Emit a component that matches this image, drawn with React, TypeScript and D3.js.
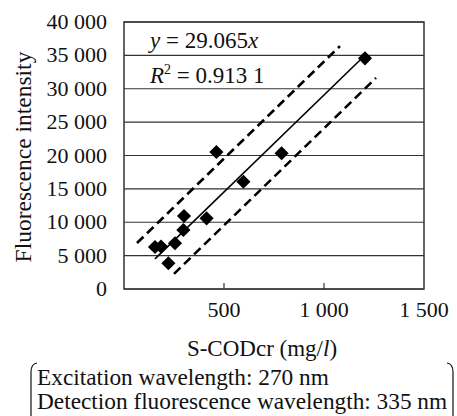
import React from "react";
import * as d3 from "d3";

const xTicks = [500, 1000, 1500];
const yTicks = [0, 5000, 10000, 15000, 20000, 25000, 30000, 35000, 40000];
const pointsX = [155, 185, 255, 297, 300, 222, 413, 597, 462, 788, 1205];
const pointsY = [6300, 6350, 6850, 8840, 10930, 3850, 10590, 16070, 20520, 20330, 34560];
const slope = 29.065;
const fitRange = [155, 1205];
const upperBand = { offset: 5000, range: [65, 1080] };
const lowerBand = { offset: -5000, range: [250, 1260] };
const equationText = "29.065";
const r2Text = "0.913 1";
const xLabel = "S-CODcr (mg/";
const yLabel = "Fluorescence intensity";
const noteLines = ["Excitation wavelength: 270 nm", "Detection fluorescence wavelength: 335 nm"];

const W = 457;
const H = 416;
const m = { left: 124, right: 424, top: 22, bottom: 289 };
const FONT = "'Liberation Serif', 'Times New Roman', serif";

export default function App() {
  const x = d3.scaleLinear().domain([0, 1500]).range([m.left, m.right]);
  const y = d3.scaleLinear().domain([0, 40000]).range([m.bottom, m.top]);
  const fmt = d3.formatLocale({ decimal: ".", thousands: " ", grouping: [3], currency: ["", ""] }).format(",d");
  const line = d3
    .line<[number, number]>()
    .x((d) => x(d[0]))
    .y((d) => y(d[1]));
  const mk = (r: number[], off: number): [number, number][] => r.map((v) => [v, slope * v + off] as [number, number]);
  const diamond = d3.symbol().type(d3.symbolSquare).size(100)();
  const ts = { fontFamily: FONT };

  return (
    <svg width={W} height={H} style={{ position: "absolute", left: 0, top: 0, background: "#fff", fontFamily: FONT }}>
      {yTicks.map((t) => (
        <line key={t} x1={m.left} x2={m.right} y1={y(t)} y2={y(t)} stroke="#333" strokeWidth={1.2} />
      ))}
      <rect x={m.left} y={m.top} width={m.right - m.left} height={m.bottom - m.top} fill="none" stroke="#333" strokeWidth={1.5} />
      {xTicks.slice(0, 2).map((t) => (
        <line key={t} x1={x(t)} x2={x(t)} y1={m.bottom} y2={m.bottom - 6} stroke="#333" strokeWidth={1.2} />
      ))}
      {yTicks.map((t) => (
        <text key={t} x={107} y={y(t) + 7} textAnchor="end" fontSize={22} fill="#111" style={ts}>
          {fmt(t)}
        </text>
      ))}
      {xTicks.map((t) => (
        <text key={t} x={x(t)} y={317} textAnchor="middle" fontSize={22} fill="#111" style={ts}>
          {fmt(t)}
        </text>
      ))}
      <path d={line(mk(upperBand.range, upperBand.offset)) || ""} fill="none" stroke="#000" strokeWidth={2.6} strokeDasharray="9,5" />
      <path d={line(mk(lowerBand.range, lowerBand.offset)) || ""} fill="none" stroke="#000" strokeWidth={2.6} strokeDasharray="9,5" />
      <path d={line(mk(fitRange, 0)) || ""} fill="none" stroke="#000" strokeWidth={1.6} />
      {pointsX.map((px, i) => (
        <path key={i} d={diamond || ""} transform={`translate(${x(px)},${y(pointsY[i])}) rotate(45)`} fill="#000" />
      ))}
      <text x={150} y={48} fontSize={23} fill="#111" style={ts}>
        <tspan fontStyle="italic">y</tspan> = {equationText}
        <tspan fontStyle="italic">x</tspan>
      </text>
      <text x={150} y={83} fontSize={23} fill="#111" style={ts}>
        <tspan fontStyle="italic">R</tspan>
        <tspan fontSize={14} dy={-9}>2</tspan>
        <tspan dy={9}> = {r2Text}</tspan>
      </text>
      <text transform={`translate(31,157) rotate(-90)`} textAnchor="middle" fontSize={23.5} fill="#111" style={ts}>
        {yLabel}
      </text>
      <text x={262} y={356} textAnchor="middle" fontSize={23} fill="#111" style={ts}>
        {xLabel}
        <tspan fontStyle="italic">l</tspan>)
      </text>
      {noteLines.map((s, i) => (
        <text key={i} x={37} y={385 + i * 24} fontSize={23.3} fill="#111" style={ts}>
          {s}
        </text>
      ))}
      <path d="M37,363 Q31,364 31,372 L31,416" fill="none" stroke="#111" strokeWidth={1.2} />
      <path d="M447,363 Q453,364 453,372 L453,416" fill="none" stroke="#111" strokeWidth={1.2} />
    </svg>
  );
}
